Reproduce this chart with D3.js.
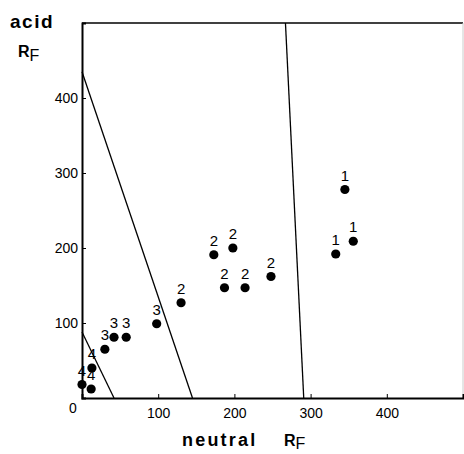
<!DOCTYPE html>
<html>
<head>
<meta charset="utf-8">
<script src="https://cdn.jsdelivr.net/npm/d3@7"></script>
<style>
  body { margin: 0; background: #fff; }
  text { font-family: "Liberation Sans", Arial, sans-serif; }
</style>
</head>
<body>
<div id="chart"></div>
<script>
// spot groups (label shown above each spot)
var spotGroup = ['1', '1', '1', '2', '2', '2', '2', '2', '2', '3', '3', '3', '3', '4', '4', '4'];
var neutralRf = [333, 356, 345, 173, 198, 187, 214, 248, 130, 98, 30, 42, 58, 13, 12, 0];
var acidRf    = [192, 209, 278, 191, 200, 147, 147, 162, 127, 99, 65, 81, 81, 40, 12, 18];

var xTicks = [100, 200, 300, 400];
var yTicks = [100, 200, 300, 400];

// boundary lines, as [x1, y1, x2, y2] in Rf units
var boundaries = [
  [0, 88, 42, 0],
  [0, 435, 145, 0],
  [267, 500, 291, 0]
];

var width = 464, height = 454;
var x = d3.scaleLinear().domain([0, 500]).range([82, 463]);
var y = d3.scaleLinear().domain([0, 500]).range([398, 23]);

var svg = d3.select('#chart').append('svg')
  .attr('width', width)
  .attr('height', height);

// frame: top and right
svg.append('line')
  .attr('x1', x(0)).attr('x2', x(500)).attr('y1', y(500)).attr('y2', y(500))
  .attr('stroke', '#000').attr('stroke-width', 1.3);
svg.append('line')
  .attr('x1', x(500)).attr('x2', x(500)).attr('y1', y(500)).attr('y2', y(0))
  .attr('stroke', '#ccc').attr('stroke-width', 1);

// axes
var xAxis = d3.axisBottom(x).tickValues(xTicks).tickSize(-4).tickPadding(10);
var yAxis = d3.axisLeft(y).tickValues(yTicks).tickSize(-4).tickPadding(4);

var gx = svg.append('g').attr('transform', 'translate(0,' + y(0) + ')').call(xAxis);
var gy = svg.append('g').attr('transform', 'translate(' + x(0) + ',0)').call(yAxis);

[gx, gy].forEach(function (g) {
  g.select('.domain').attr('stroke', '#000').attr('stroke-width', 2);
  g.selectAll('.tick line').attr('stroke', '#000').attr('stroke-width', 1);
  g.selectAll('.tick text')
    .attr('fill', '#000')
    .style('font-family', '"Liberation Sans", Arial, sans-serif')
    .style('font-size', '14px');
});

// shared zero at the corner
svg.append('text')
  .attr('x', x(0) - 9).attr('y', y(0) + 15)
  .attr('text-anchor', 'middle')
  .style('font-size', '14px')
  .text('0');

// boundary lines
svg.selectAll('line.boundary').data(boundaries)
  .enter().append('line')
  .attr('class', 'boundary')
  .attr('x1', function (d) { return x(d[0]); })
  .attr('y1', function (d) { return y(d[1]); })
  .attr('x2', function (d) { return x(d[2]); })
  .attr('y2', function (d) { return y(d[3]); })
  .attr('stroke', '#000')
  .attr('stroke-width', 1.3);

// spots
var spots = neutralRf.map(function (v, i) {
  return { x: v, y: acidRf[i], g: spotGroup[i] };
});

svg.selectAll('circle.spot').data(spots)
  .enter().append('circle')
  .attr('class', 'spot')
  .attr('cx', function (d) { return x(d.x); })
  .attr('cy', function (d) { return y(d.y); })
  .attr('r', 4.6)
  .attr('fill', '#000');

svg.selectAll('text.spot-label').data(spots)
  .enter().append('text')
  .attr('class', 'spot-label')
  .attr('x', function (d) { return x(d.x); })
  .attr('y', function (d) { return y(d.y) - 9; })
  .attr('text-anchor', 'middle')
  .style('font-size', '15px')
  .text(function (d) { return d.g; });

// axis titles
svg.append('text')
  .attr('x', 10).attr('y', 28)
  .style('font-size', '19px').style('font-weight', 'bold').style('letter-spacing', '1.5px')
  .text('acid');
var yr = svg.append('text').attr('x', 18).attr('y', 57);
yr.append('tspan').style('font-size', '16px').style('font-weight', 'bold').text('R');
yr.append('tspan').attr('dy', 4).style('font-size', '16px').text('F');

var xt = svg.append('text').attr('x', 182).attr('y', 446);
xt.append('tspan').style('font-size', '18px').style('font-weight', 'bold').style('letter-spacing', '2.2px').text('neutral');
xt.append('tspan').attr('x', 284).style('font-size', '16px').style('font-weight', 'bold').text('R');
xt.append('tspan').attr('dy', 3).style('font-size', '16px').text('F');
</script>
</body>
</html>
